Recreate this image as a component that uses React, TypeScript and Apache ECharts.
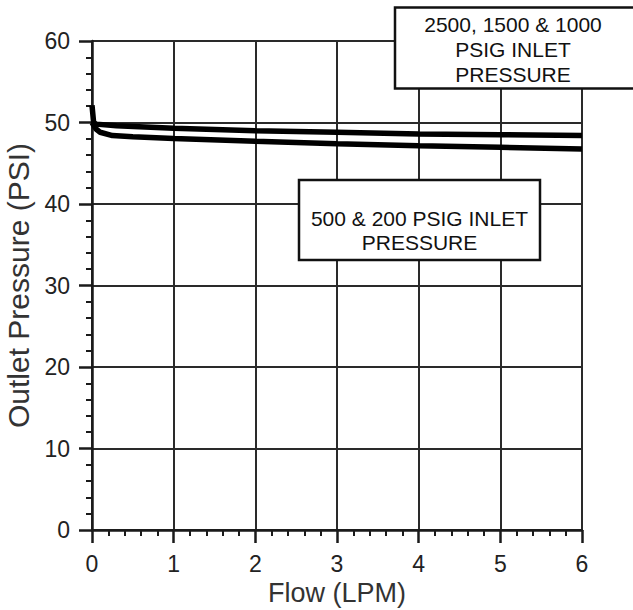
import React, { useEffect, useRef } from "react";
import * as echarts from "echarts";

const xTicks = [0, 1, 2, 3, 4, 5, 6];
const yTicks = [0, 10, 20, 30, 40, 50, 60];

// 2500, 1500 & 1000 PSIG inlet pressure curve
const highFlow = [0, 0.02, 0.05, 0.3, 1, 2, 3, 4, 5, 6];
const highPressure = [52.1, 50.0, 49.8, 49.6, 49.3, 49.0, 48.8, 48.6, 48.5, 48.4];

// 500 & 200 PSIG inlet pressure curve
const lowFlow = [0, 0.05, 0.1, 0.25, 0.5, 1, 2, 3, 4, 5, 6];
const lowPressure = [50.0, 49.2, 48.8, 48.4, 48.25, 48.05, 47.7, 47.4, 47.15, 46.95, 46.75];

const boxHighText = "2500, 1500 & 1000\nPSIG INLET\nPRESSURE";
const boxLowText = "500 & 200 PSIG INLET\nPRESSURE";

const FONT = '"Liberation Sans", Arial, sans-serif';

export default function App() {
  const ref = useRef<HTMLDivElement>(null);
  useEffect(() => {
    if (!ref.current) return;
    const chart = echarts.init(ref.current, null, { renderer: "svg" });
    const axisCommon = {
      axisLine: { show: true, lineStyle: { color: "#1a1a1a", width: 2.5 } },
      axisTick: { show: true, length: 13, lineStyle: { color: "#1a1a1a", width: 2.5 } },
      minorTick: { show: true, splitNumber: 5, length: 6, lineStyle: { color: "#1a1a1a", width: 2 } },
      splitLine: { show: true, lineStyle: { color: "#2a2a2a", width: 2 } },
      minorSplitLine: { show: false },
      axisLabel: { color: "#222", fontSize: 23, fontFamily: FONT, margin: 22 },
      nameTextStyle: { color: "#333", fontFamily: FONT },
    };
    chart.setOption({
      animation: false,
      backgroundColor: "#fff",
      grid: { left: 92, right: 51, top: 41, bottom: 80, containLabel: false, outerBoundsMode: "none" },
      xAxis: {
        type: "value",
        min: xTicks[0],
        max: xTicks[xTicks.length - 1],
        interval: 1,
        name: "Flow (LPM)",
        nameLocation: "middle",
        nameGap: 48,
        ...axisCommon,
        nameTextStyle: { color: "#333", fontFamily: FONT, fontSize: 27 },
      },
      yAxis: {
        type: "value",
        min: yTicks[0],
        max: yTicks[yTicks.length - 1],
        interval: 10,
        name: "Outlet Pressure (PSI)",
        nameLocation: "middle",
        nameGap: 52,
        ...axisCommon,
        nameTextStyle: { color: "#333", fontFamily: FONT, fontSize: 30 },
      },
      series: [
        {
          type: "line",
          data: highFlow.map((x, i) => [x, highPressure[i]]),
          showSymbol: false,
          lineStyle: { color: "#000", width: 5.5 },
          z: 5,
        },
        {
          type: "line",
          data: lowFlow.map((x, i) => [x, lowPressure[i]]),
          showSymbol: false,
          lineStyle: { color: "#000", width: 5.5 },
          z: 5,
        },
      ],
      graphic: [
        {
          type: "rect",
          z: 100,
          shape: { x: 395, y: 7.5, width: 250, height: 81 },
          style: { fill: "#fff", stroke: "#111", lineWidth: 2.5 },
        },
        {
          type: "text",
          z: 101,
          x: 513,
          y: 49,
          style: {
            text: boxHighText,
            fill: "#111",
            font: `21px ${FONT}`,
            lineHeight: 25,
            align: "center",
            verticalAlign: "middle",
          },
        },
        {
          type: "rect",
          z: 100,
          shape: { x: 299, y: 180, width: 241, height: 80 },
          style: { fill: "#fff", stroke: "#111", lineWidth: 2.5 },
        },
        {
          type: "text",
          z: 101,
          x: 419.5,
          y: 230,
          style: {
            text: boxLowText,
            fill: "#111",
            font: `21px ${FONT}`,
            lineHeight: 24,
            align: "center",
            verticalAlign: "middle",
          },
        },
      ],
    });
    return () => chart.dispose();
  }, []);
  return (
    <div
      ref={ref}
      style={{ position: "absolute", left: 0, top: 0, width: 633, height: 610 }}
    />
  );
}
